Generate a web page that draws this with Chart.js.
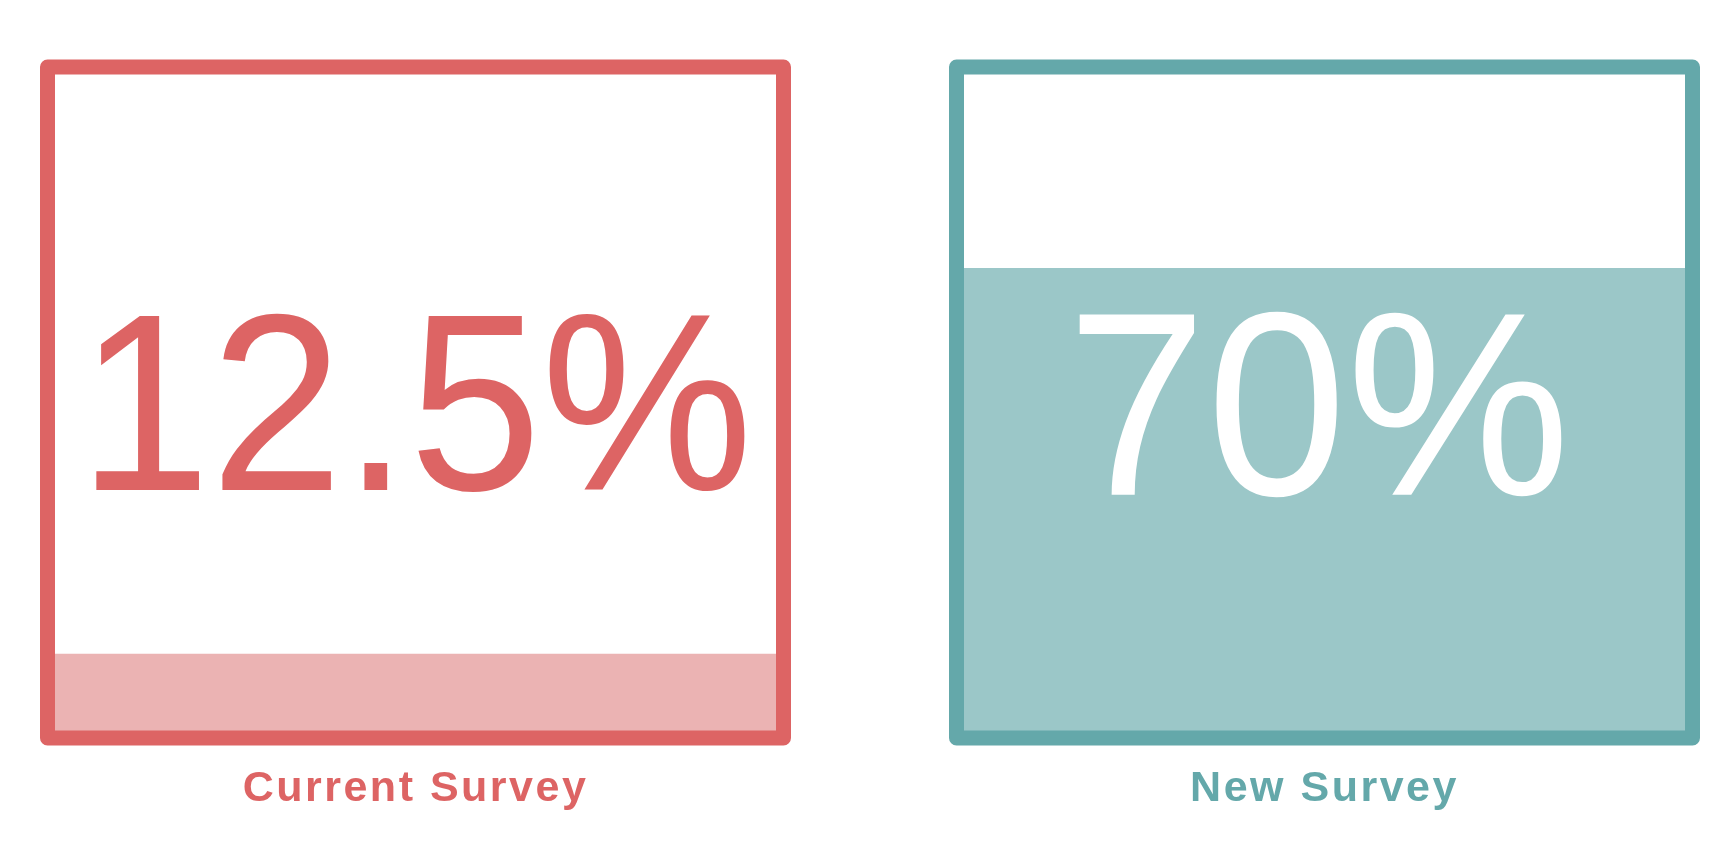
<!DOCTYPE html>
<html><head><meta charset="utf-8">
<script src="https://cdn.jsdelivr.net/npm/chart.js@4/dist/chart.umd.min.js"></script>
<style>html,body{margin:0;padding:0;background:#fff;overflow:hidden}#wrap{position:relative;width:1736px;height:846px}</style>
</head><body><div id="wrap"><canvas id="c" width="1736" height="846"></canvas></div>
<script>
const categories = ["Current Survey", "New Survey"];
const values = [12.5, 70];
const scaleMin = 0;
const scaleMax = 100;

const strokeColors = ['#DD6464', '#64A8AA'];
const fillColors = ['#EBB3B3', '#9BC7C8'];
const numberColors = ['#DD6464', '#FFFFFF'];
const numberSizes = [253, 262];
const numberStretch = [0.94, 0.96];
const numberShiftX = [0, -6];
const numberShiftY = [0, 2];
const CAP = 0.688;
const FONT = '"Liberation Sans", Arial, Helvetica, sans-serif';

const framePlugin = {
  id: 'frames',
  beforeDraw(chart) { chart.ctx.letterSpacing = '2.5px'; },
  afterDatasetsDraw(chart) {
    const ctx = chart.ctx;
    const meta = chart.getDatasetMeta(0);
    const y = chart.scales.y;
    const top = y.getPixelForValue(scaleMax), bottom = y.getPixelForValue(scaleMin);
    ctx.save();
    ctx.letterSpacing = '0px';
    meta.data.forEach((bar, i) => {
      const w = bar.width;
      const left = bar.x - w / 2;
      ctx.lineWidth = 15;
      ctx.lineJoin = 'round';
      ctx.strokeStyle = strokeColors[i];
      ctx.strokeRect(left, top, w, bottom - top);
      const size = numberSizes[i];
      ctx.save();
      ctx.translate(bar.x + numberShiftX[i], (top + bottom) / 2 + size * CAP / 2 + numberShiftY[i]);
      ctx.scale(numberStretch[i], 1);
      ctx.font = size + 'px ' + FONT;
      ctx.fillStyle = numberColors[i];
      ctx.textAlign = 'center';
      ctx.textBaseline = 'alphabetic';
      ctx.fillText(values[i] + '%', 0, 0);
      ctx.restore();
    });
    ctx.restore();
  },
  afterDraw(chart) { chart.ctx.letterSpacing = '0px'; }
};

new Chart(document.getElementById('c'), {
  type: 'bar',
  data: {
    labels: categories,
    datasets: [{ data: values, backgroundColor: fillColors, borderWidth: 0, barThickness: 736, clip: false }]
  },
  options: {
    responsive: false, animation: false, devicePixelRatio: 1,
    layout: { padding: { top: 67, left: 415.5, right: 411.5, bottom: 0 } },
    plugins: { legend: { display: false }, tooltip: { enabled: false } },
    scales: {
      x: {
        offset: false,
        grid: { display: false, drawTicks: false },
        border: { display: false },
        ticks: { padding: 25, maxRotation: 0, autoSkip: false,
          font: { family: FONT, size: 43, weight: 'bold' },
          color: (c) => strokeColors[c.index] },
        afterFit(s) { s.height = 108; }
      },
      y: { display: false, min: scaleMin, max: scaleMax }
    }
  },
  plugins: [framePlugin]
});
</script></body></html>
